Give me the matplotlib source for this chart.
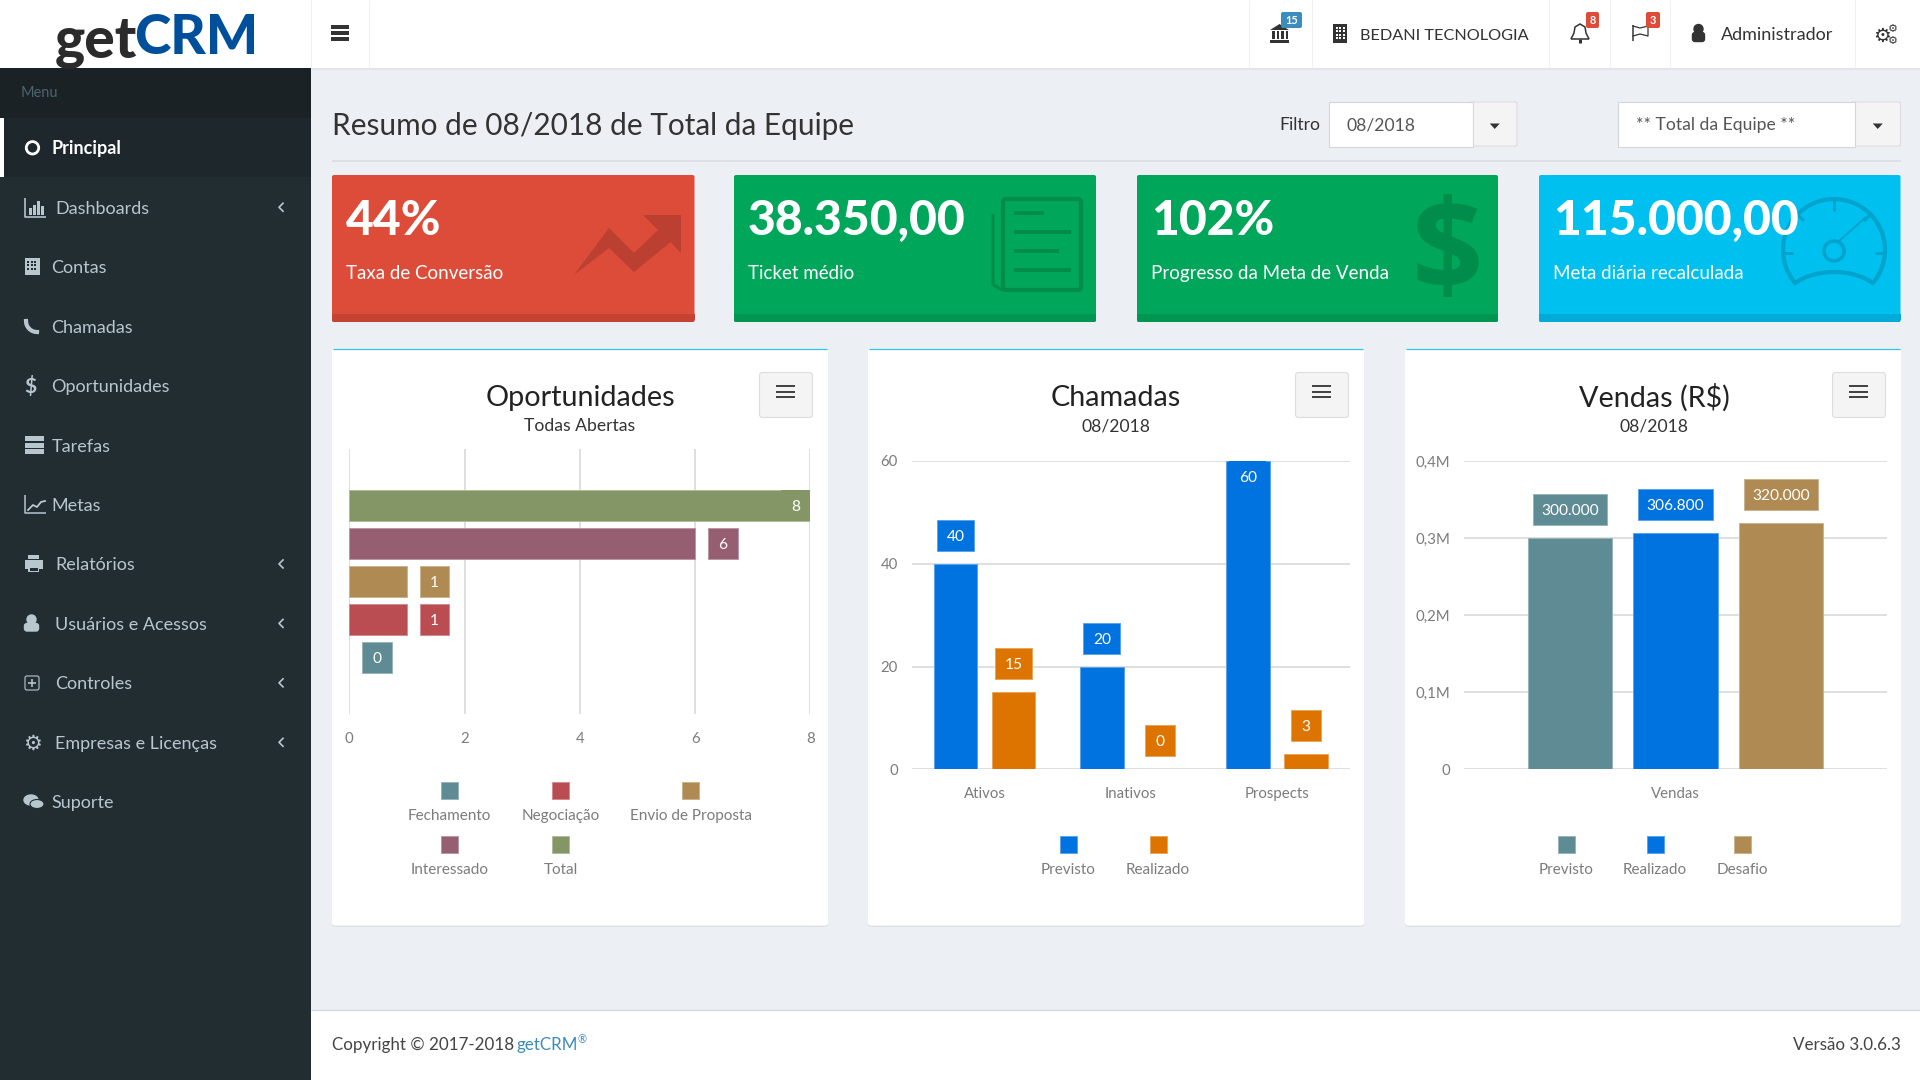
import numpy as np
import matplotlib
matplotlib.use('Agg')
import matplotlib.pyplot as plt
from matplotlib.colors import to_rgb
from matplotlib.patches import Rectangle, Circle, Ellipse, Polygon, FancyBboxPatch

# chart data
opp_labels = ['Fechamento', 'Negociação', 'Envio de Proposta', 'Interessado', 'Total']
opp_values = [0, 1, 1, 6, 8]
opp_ticks = [0, 2, 4, 6, 8]

call_categories = ['Ativos', 'Inativos', 'Prospects']
call_previsto = [40, 20, 60]
call_realizado = [15, 0, 3]
call_ticks = [0, 20, 40, 60]

sales_labels = ['Previsto', 'Realizado', 'Desafio']
sales_values = [300000, 306800, 320000]
sales_ticks = [0, 100000, 200000, 300000, 400000]
sales_tick_labels = ['0', '0,1M', '0,2M', '0,3M', '0,4M']

# page text
menu_items = ['Principal', 'Dashboards', 'Contas', 'Chamadas', 'Oportunidades', 'Tarefas', 'Metas',
              'Relatórios', 'Usuários e Acessos', 'Controles', 'Empresas e Licenças', 'Suporte']
menu_arrows = ['Dashboards', 'Relatórios', 'Usuários e Acessos', 'Controles', 'Empresas e Licenças']
kpi_values = ['44%', '38.350,00', '102%', '115.000,00']
kpi_labels = ['Taxa de Conversão', 'Ticket médio', 'Progresso da Meta de Venda', 'Meta diária recalculada']

FONT = 'Lato'
plt.rcParams['font.family'] = [FONT, 'DejaVu Sans']

TEAL = '#5f8b95'
RED = '#ba4d51'
TAN = '#af8a53'
MAUVE = '#955f71'
OLIVE = '#859666'
BLUE = '#0073e0'
ORANGE = '#de7400'
TICK = '#7c7c7c'
GRID = '#dfdfdf'
opp_colors = [TEAL, RED, TAN, MAUVE, OLIVE]

fig = plt.figure(figsize=(19.2, 10.8), dpi=100, facecolor='#ecf0f5')


def overlay(z):
    a = fig.add_axes([0, 0, 1, 1], zorder=z)
    a.set_xlim(0, 1920)
    a.set_ylim(1080, 0)
    a.axis('off')
    a.patch.set_alpha(0)
    return a


bg = overlay(0)
top = overlay(10)


def lighter(color, f=0.35):
    r = np.array(to_rgb(color))
    return tuple(r + (1 - r) * f)


def txt(x, y, s, px, color, weight='normal', ha='left', ax=bg, family=None, z=5):
    # y is the middle of the capital letters
    ax.text(x, y + 0.36 * px, s, fontsize=px * 0.72, color=color, fontweight=weight, ha=ha, va='baseline',
            parse_math=False, zorder=z, family=family or FONT)


def box(x0, y0, x1, y1, color, ax=bg, z=1, **kw):
    ax.add_patch(Rectangle((x0, y0), x1 - x0, y1 - y0, facecolor=color, edgecolor=kw.pop('ec', 'none'),
                           linewidth=kw.pop('lw', 0), zorder=z, **kw))


def rbox(x0, y0, x1, y1, color, ec='none', r=3, z=1):
    bg.add_patch(FancyBboxPatch((x0 + r, y0 + r), x1 - x0 - 2 * r, y1 - y0 - 2 * r, boxstyle='round,pad=%d' % r,
                                facecolor=color, edgecolor=ec, linewidth=0.8, zorder=z))


def line(xs, ys, color, w=1.0, z=3):
    bg.plot(xs, ys, color=color, lw=w * 0.72, solid_capstyle='butt', zorder=z)


def to_px(ax, x, y):
    px, py = ax.transData.transform((x, y))
    return px, 1080 - py


def value_box(ax, x, y, s, color, horizontal=False):
    w = 22 + 7.5 * len(s)
    h = 31
    px, py = to_px(ax, x, y)
    (al, ab), (ar, at) = to_px(ax, ax.get_xlim()[0], ax.get_ylim()[0]), to_px(ax, ax.get_xlim()[1], ax.get_ylim()[1])
    inside = False
    if horizontal:
        left = px + 13
        if left + w > ar:
            left = ar - w
            inside = True
        up = py - h / 2
    else:
        left = px - w / 2
        up = py - 13 - h
        if up < at:
            up = at
            inside = True
    if inside:
        box(left, up, left + w, up + h, color, ax=top, z=4)
    else:
        box(left, up, left + w, up + h, color, ax=top, z=4, ec=lighter(color), lw=0.7)
    txt(left + w / 2, up + h / 2, s, 15.5, 'white', ha='center', ax=top)


def hide_empty(bars, values):
    # a zero bar must not leave its outline on the axis
    for p, v in zip(bars, values):
        if v == 0:
            p.set_visible(False)


def style_axes(ax):
    ax.patch.set_alpha(0)
    for s in ax.spines.values():
        s.set_visible(False)
    ax.tick_params(length=0, labelsize=10.8, labelcolor=TICK)


def pixel_axes(x0, y0, x1, y1):
    return fig.add_axes([x0 / 1920, 1 - y1 / 1080, (x1 - x0) / 1920, (y1 - y0) / 1080], zorder=5)


def legend_item(cx, y, label, color):
    box(cx - 8.5, y - 8.5, cx + 8.5, y + 8.5, color, z=3, ec=lighter(color), lw=0.7)
    txt(cx, y + 24.5, label, 15.2, TICK, ha='center')


# page frame
box(0, 0, 1920, 68, 'white')
line([311, 1920], [68.5, 68.5], '#e1e4e9', 2)
box(0, 68, 311, 1080, '#222d32', z=2)
box(0, 68, 311, 118, '#1a2226', z=2)
box(0, 118, 311, 177, '#1e282c', z=2)
box(0, 118, 4, 177, 'white', z=3)
box(311, 1010, 1920, 1080, 'white')
line([311, 1920], [1009.5, 1009.5], '#d2d6de', 1.2)

# logo
txt(55, 37, 'get', 57, '#2b2b2b', 'black')
txt(134, 34, 'CRM', 55, '#004f9a', 'black')

# top bar
for x in [310.5, 369, 1248.5, 1311.5, 1548.5, 1609.5, 1670, 1854.5]:
    line([x, x], [0, 68], '#f0f0f0', 1)
for y in [27, 33, 39]:
    box(331, y - 2, 348.5, y + 2, '#333333', z=3)

# bank icon
bg.add_patch(Polygon([[1270, 30], [1279.5, 24], [1289, 30]], facecolor='#333333', zorder=3))
for x in [1272, 1276.5, 1281, 1285.5]:
    box(x, 31, x + 2.6, 39, '#333333', z=3)
box(1270, 40, 1289, 43, '#333333', z=3)
# building icon
box(1333, 24, 1347, 43, '#333333', z=3)
for i in range(3):
    for j in range(4):
        box(1335.5 + i * 3.5, 26.5 + j * 3.5, 1337.5 + i * 3.5, 28.5 + j * 3.5, 'white', z=4)
txt(1360.5, 34, 'BEDANI TECNOLOGIA', 16.3, '#333333')
# bell icon
bg.add_patch(Polygon([[1571, 39], [1574, 33], [1575, 27], [1580, 24], [1585, 27], [1586, 33], [1589, 39]],
                     facecolor='white', edgecolor='#333333', linewidth=1.1, zorder=3))
line([1580, 1580], [39, 43], '#333333', 3)
# flag icon
line([1632.5, 1632.5], [25, 41], '#333333', 1.5)
bg.plot([1633, 1640, 1648, 1648, 1640, 1633], [26, 28, 26, 36, 34, 36], color='#333333', lw=0.9, zorder=3)
# user icon
bg.add_patch(Circle((1698.5, 29), 4.5, color='#333333', zorder=3))
bg.add_patch(FancyBboxPatch((1695, 35), 7, 4, boxstyle='round,pad=2.5', color='#333333', zorder=3))
txt(1720.5, 34, 'Administrador', 18, '#333333')
txt(1882, 35, '⚙', 20, '#333333', ha='center', family='DejaVu Sans')
txt(1892.5, 28, '⚙', 11, '#333333', ha='center', family='DejaVu Sans')
txt(1892.5, 40, '⚙', 11, '#333333', ha='center', family='DejaVu Sans')

# badges
for x0, x1, color, s in [(1281, 1302, '#3c8dbc', '15'), (1586, 1599, '#dd4b39', '8'), (1646, 1660, '#dd4b39', '3')]:
    rbox(x0, 12, x1, 28, color, r=2, z=4)
    txt((x0 + x1) / 2, 20, s, 11, 'white', 'bold', ha='center', z=6)

# sidebar
txt(21, 92, 'Menu', 14.5, '#4b646f', z=5)
for i, name in enumerate(menu_items):
    y = 147.8 + i * 59.45
    wide = name in menu_arrows
    col = 'white' if i == 0 else '#b8c7ce'
    txt(55 if wide else 51.5, y, name, 18, col, 'bold' if i == 0 else 'normal')
    if wide:
        bg.plot([283, 279, 283], [y - 4, y, y + 4], color=col, lw=1.2, zorder=5)

ic = '#b8c7ce'
bg.add_patch(Circle((32.5, 147.8), 6.2, facecolor='none', edgecolor='white', linewidth=2, zorder=5))
# dashboards
line([25, 25, 46], [198, 216.5, 216.5], ic, 1.6, z=5)
for x, h in zip([29, 33, 37, 41], [7, 10, 14, 9]):
    box(x, 215 - h, x + 2.6, 215, ic, z=5)
# contas
box(24.5, 258, 39.5, 275, ic, z=5)
for i in range(3):
    for j in range(3):
        box(27 + i * 3.7, 260.5 + j * 3.7, 29 + i * 3.7, 262.5 + j * 3.7, '#222d32', z=6)
# chamadas
t = np.linspace(np.pi, np.pi * 1.5, 12)
bg.plot(37 + 11 * np.cos(t), 321 - 11 * np.sin(t), color=ic, lw=3, zorder=5)
txt(30, 385.5, '$', 21, ic, 'bold', ha='center')
# tarefas
for y, x1 in [(438.5, 43.5), (445, 43.5), (451.5, 43.5)]:
    box(24.5, y - 2.5, x1, y + 2.5, ic, z=5)
# metas
line([25, 25, 46], [495, 513, 513], ic, 1.5, z=5)
bg.plot([28, 33, 37, 41, 45], [510, 505, 507, 502, 501], color=ic, lw=1.3, zorder=5)
# relatorios
box(24.5, 560, 42.5, 569, ic, z=5)
box(28, 555, 39, 559, ic, z=5)
box(28, 566, 39, 572, ic, z=5)
box(29.5, 567.5, 37.5, 571, '#222d32', z=6)
# usuarios
bg.add_patch(Circle((31.5, 619.5), 4.5, color=ic, zorder=5))
bg.add_patch(FancyBboxPatch((27, 626), 9, 2.5, boxstyle='round,pad=2.5', color=ic, zorder=5))
# controles
rbox(25, 676, 39, 690, 'none', ec=ic, r=2, z=5)
line([32, 32], [679, 687], ic, 1.6, z=5)
line([28, 36], [683, 683], ic, 1.6, z=5)
txt(32.5, 742, '⚙', 21, ic, ha='center', family='DejaVu Sans')
# suporte
bg.add_patch(Ellipse((31, 800), 14, 10, color=ic, zorder=5))
bg.add_patch(Ellipse((37, 804), 14, 9, facecolor=ic, edgecolor='#222d32', linewidth=0.8, zorder=6))

# page header
txt(332.5, 124, 'Resumo de 08/2018 de Total da Equipe', 29.8, '#333333')
line([332, 1900.5], [161, 161], '#d8dade', 1.5)
txt(1279.5, 124, 'Filtro', 17.5, '#333333')
for x0, x1, x2, s, tx in [(1329, 1472.5, 1517, '08/2018', 1346.5), (1618, 1855, 1900.5, '** Total da Equipe **', 1636)]:
    rbox(x1 - 4, 102, x2, 146, '#f4f4f4', ec='#dddddd', r=2, z=1)
    box(x0, 102, x1, 147, 'white', ec='#d2d6de', lw=0.8, z=2)
    txt(tx, 124, s, 17.5, '#555555')
    cx = (x1 + x2) / 2
    bg.add_patch(Polygon([[cx - 5, 123.5], [cx + 5, 123.5], [cx, 129]], facecolor='#333333', zorder=3))

# kpi cards
kpi_left = [332, 734, 1137, 1539]
kpi_right = [694.5, 1096, 1498, 1900.5]
kpi_bg = ['#dd4b39', '#00a65a', '#00a65a', '#00c0ef']
kpi_dark = ['#c64333', '#009551', '#009551', '#00acd7']
kpi_icon = ['#bc4031', '#008d4c', '#008d4c', '#00a3cb']
for x0, x1, c, d, v, lab in zip(kpi_left, kpi_right, kpi_bg, kpi_dark, kpi_values, kpi_labels):
    rbox(x0, 175, x1, 322, c, r=2)
    box(x0, 314, x1, 320, d, z=1.5)
    rbox(x0, 314, x1, 322, d, r=2, z=1.2)
    txt(x0 + 14, 218, v, 48, 'white', 'black')
    txt(x0 + 14, 272, lab, 18.8, 'white')

# trend arrow
bg.add_patch(Polygon([[574, 275], [609, 228], [634, 253], [658, 230], [643, 215], [681, 215], [681, 253],
                      [670.5, 242], [634, 272], [609, 248]], facecolor=kpi_icon[0], zorder=2))
# newspaper
gi = kpi_icon[1]
rbox(1003, 199, 1081, 290, 'none', ec=gi, r=3, z=2)
bg.patches[-1].set_linewidth(3)
line([993, 993, 1003], [214, 285, 290], gi, 3, z=2)
for y, x1 in [(213, 1044), (232, 1071), (251, 1059), (270, 1071)]:
    line([1014, x1], [y, y], gi, 4, z=2)
# dollar
txt(1447, 245, '$', 125, kpi_icon[2], 'bold', ha='center', z=2, family='Open Sans')
# gauge
bi = kpi_icon[3]
t = np.radians(np.linspace(-40, 220, 60))
bg.plot(1834 + 51 * np.cos(t), 250 - 51 * np.sin(t), color=bi, lw=3, zorder=2)
t = np.radians(np.linspace(40, 140, 30))
bg.plot(1834 + 50 * np.cos(t), 302 - 30 * np.sin(t), color=bi, lw=3, zorder=2)
bg.add_patch(Circle((1834, 251), 10, facecolor='none', edgecolor=bi, linewidth=2.5, zorder=2))
line([1838, 1866], [242, 217], bi, 2, z=2)
for a, b, c, d in [(1834, 1834, 199, 211), (1783, 1793, 253, 253), (1875, 1885, 253, 253),
                   (1797, 1804, 214, 221), (1871, 1864, 214, 221)]:
    line([a, b], [c, d], bi, 3, z=2)

# chart cards
card_left = [332, 868, 1405]
card_right = [828, 1364, 1901]
card_titles = ['Oportunidades', 'Chamadas', 'Vendas (R$)']
card_subs = ['Todas Abertas', '08/2018', '08/2018']
card_center = [580, 1116, 1654]
for x0, x1, title, sub, cx in zip(card_left, card_right, card_titles, card_subs, card_center):
    rbox(x0, 351, x1, 927, '#dfe2e7', r=3, z=0.5)
    rbox(x0, 349, x1, 925.5, 'white', r=3, z=1)
    line([x0 + 1, x1 - 1], [349.3, 349.3], '#2fc2e8', 1.2, z=1.5)
    txt(cx, 396, title, 28.7, '#222222', ha='center')
    txt(cx, 425, sub, 17.5, '#333333', ha='center')
    rbox(x1 - 68.5, 372.5, x1 - 15.5, 417.5, '#f4f4f4', ec='#dddddd', r=3, z=2)
    for y in [386, 391.5, 397]:
        box(x1 - 52, y - 1, x1 - 33, y + 1, '#444444', z=3)

# oportunidades chart
ax1 = pixel_axes(349.3, 449, 810.4, 714.3)
style_axes(ax1)
positions = np.arange(1, 6)
bars1 = ax1.barh(positions, opp_values, height=0.818, color=opp_colors, edgecolor=[lighter(c) for c in opp_colors],
                 linewidth=0.7, zorder=3)
hide_empty(bars1, opp_values)
ax1.set_xlim(0, 8)
ax1.set_ylim(-0.5, 6.5)
ax1.set_yticks([])
ax1.set_xticks(opp_ticks)
ax1.tick_params(axis='x', pad=13)
ax1.grid(axis='x', color=GRID, lw=1.4, zorder=1)
ax1.set_axisbelow(True)
for yp, v, c in zip(positions, opp_values, opp_colors):
    value_box(ax1, v, yp, str(v), c, horizontal=True)
for cx, y, lab, c in zip([449.5, 560.5, 690.5, 449.5, 560.5], [790, 790, 790, 844.5, 844.5], opp_labels, opp_colors):
    legend_item(cx, y, lab, c)

# chamadas chart
ax2 = pixel_axes(911.7, 461, 1350, 769.4)
style_axes(ax2)
idx = np.arange(len(call_categories))
ax2.bar(idx - 0.1985, call_previsto, width=0.297, color=BLUE, edgecolor=lighter(BLUE), linewidth=0.7, zorder=3)
bars2 = ax2.bar(idx + 0.1985, call_realizado, width=0.297, color=ORANGE, edgecolor=lighter(ORANGE),
                linewidth=0.7, zorder=3)
hide_empty(bars2, call_realizado)
ax2.set_xlim(-0.5, 2.5)
ax2.set_ylim(0, 60)
ax2.set_xticks(idx, call_categories)
ax2.set_yticks(call_ticks)
ax2.tick_params(axis='x', pad=13)
ax2.tick_params(axis='y', pad=10)
ax2.grid(axis='y', color=GRID, lw=1.4, zorder=1)
ax2.set_axisbelow(True)
for i in idx:
    value_box(ax2, i - 0.1985, call_previsto[i], str(call_previsto[i]), BLUE)
    value_box(ax2, i + 0.1985, call_realizado[i], str(call_realizado[i]), ORANGE)
legend_item(1068, 844.5, 'Previsto', BLUE)
legend_item(1158, 844.5, 'Realizado', ORANGE)

# vendas chart
ax3 = pixel_axes(1464, 461, 1887, 769.4)
style_axes(ax3)
sales_colors = [TEAL, BLUE, TAN]
xs = np.array([-0.249, 0, 0.249])
ax3.bar(xs, sales_values, width=0.1986, color=sales_colors, edgecolor=[lighter(c) for c in sales_colors],
        linewidth=0.7, zorder=3)
ax3.set_xlim(-0.5, 0.5)
ax3.set_ylim(0, 400000)
ax3.set_xticks([0], ['Vendas'])
ax3.set_yticks(sales_ticks, sales_tick_labels)
ax3.tick_params(axis='x', pad=13)
ax3.tick_params(axis='y', pad=10)
ax3.grid(axis='y', color=GRID, lw=1.4, zorder=1)
ax3.set_axisbelow(True)
for x, v, c in zip(xs, sales_values, sales_colors):
    value_box(ax3, x, v, f'{v:,}'.replace(',', '.'), c)
for cx, lab, c in zip([1566, 1655, 1742], sales_labels, sales_colors):
    legend_item(cx, 844.5, lab, c)

# footer
txt(332, 1044, 'Copyright © 2017-2018', 17, '#444444')
txt(516.5, 1044, 'getCRM', 17, '#3c8dbc')
txt(578, 1039, '®', 11, '#3c8dbc')
txt(1900.5, 1044, 'Versão 3.0.6.3', 17, '#444444', ha='right')

fig.savefig('out.png', dpi=100, facecolor=fig.get_facecolor())
